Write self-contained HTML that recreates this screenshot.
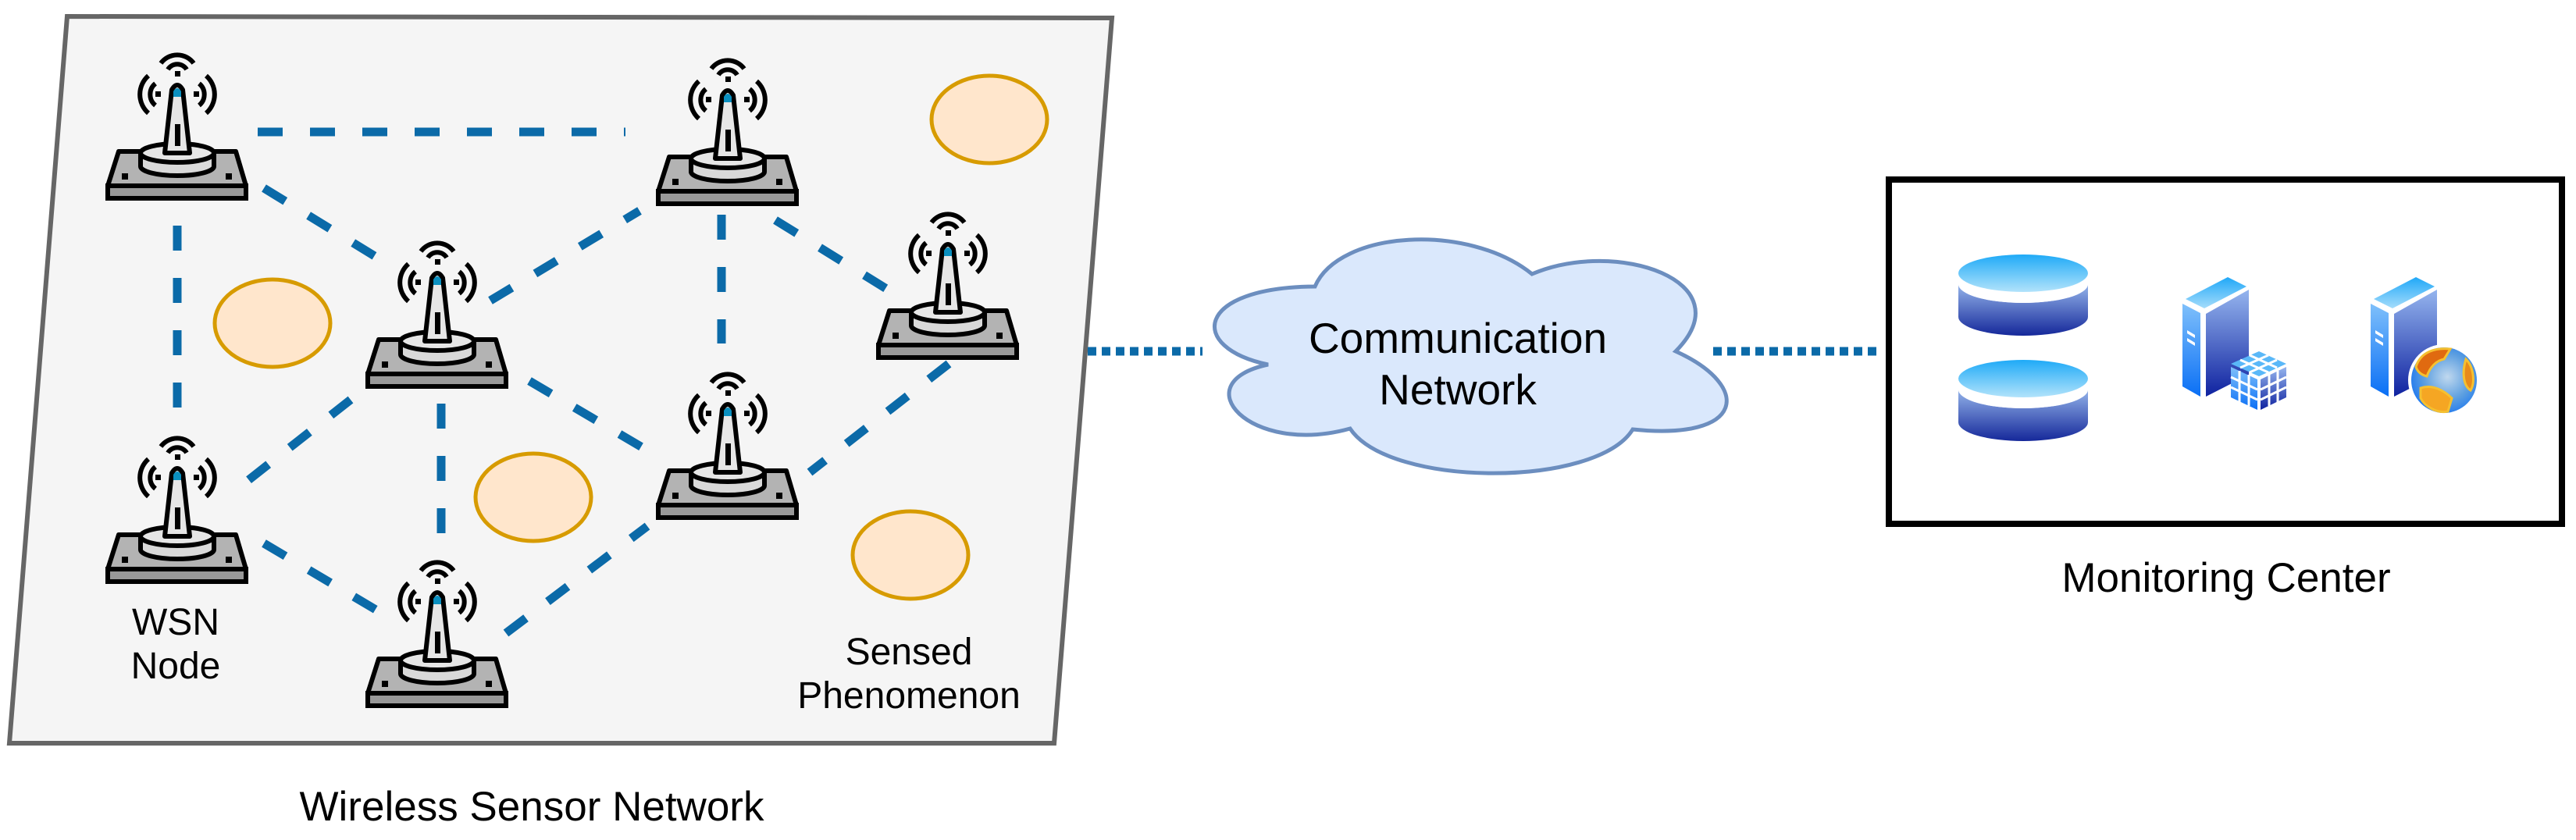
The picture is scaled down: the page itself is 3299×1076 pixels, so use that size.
<!DOCTYPE html>
<html><head><meta charset="utf-8"><style>
html,body{margin:0;padding:0;background:#fff;}
svg{display:block;}
text{font-family:"Liberation Sans",Arial,sans-serif;fill:#000;}
</style></head><body>
<svg width="3299" height="1076" viewBox="0 0 3299 1076" xmlns="http://www.w3.org/2000/svg">
<defs>
<linearGradient id="dbTop" x1="0" y1="0" x2="0" y2="1"><stop offset="0" stop-color="#1faaf7"/><stop offset="1" stop-color="#b2e3fb"/></linearGradient>
<linearGradient id="dbBody" x1="0" y1="0" x2="0" y2="1"><stop offset="0" stop-color="#94b4ea"/><stop offset="1" stop-color="#15289a"/></linearGradient>
<linearGradient id="srvL" x1="0" y1="0" x2="0" y2="1"><stop offset="0" stop-color="#7fc0fb"/><stop offset="1" stop-color="#0a6ff5"/></linearGradient>
<linearGradient id="srvR" x1="0" y1="0" x2="0" y2="1"><stop offset="0" stop-color="#95b5ee"/><stop offset="1" stop-color="#0f22a0"/></linearGradient>
<linearGradient id="srvT" x1="0" y1="0" x2="0" y2="1"><stop offset="0" stop-color="#20a8f8"/><stop offset="1" stop-color="#a5dcfb"/></linearGradient>
<radialGradient id="globe" cx="0.55" cy="0.45" r="0.6"><stop offset="0" stop-color="#c0d8ee"/><stop offset="0.6" stop-color="#5b9ee0"/><stop offset="1" stop-color="#1e78f0"/></radialGradient>
<g id="tower">
  <polygon points="15,127 165,127 178,171 1,171" fill="#b3b3b3" stroke="#000" stroke-width="6" stroke-linejoin="round"/>
  <rect x="1" y="171" width="177" height="16" fill="#999" stroke="#000" stroke-width="6"/>
  <rect x="19" y="155" width="8" height="8" fill="#000"/>
  <rect x="152" y="155" width="8" height="8" fill="#000"/>
  <path d="M43,129 L43,146 A47,12 0 0 0 137,146 L137,129 Z" fill="#d9d9d9" stroke="#000" stroke-width="6"/>
  <ellipse cx="90" cy="129" rx="47" ry="12" fill="#e6e6e6" stroke="#000" stroke-width="6"/>
  <path d="M83,48 Q90,36 97,48 L106,129 L74,129 Z" fill="#e6e6e6" stroke="#000" stroke-width="6" stroke-linejoin="round"/>
  <path d="M85,50 Q90,42 95,50 L95,57 L85,57 Z" fill="#0a8fbf"/>
  <rect x="87" y="92" width="7" height="28" fill="#000"/>
  <rect x="87" y="24" width="7" height="7" fill="#000"/>
  <rect x="62" y="50" width="7" height="7" fill="#000"/>
  <rect x="111" y="50" width="7" height="7" fill="#000"/>
  <path d="M78,22 A14,14 0 0 1 102,22" fill="none" stroke="#000" stroke-width="6"/>
  <path d="M69,14 A26,26 0 0 1 111,14" fill="none" stroke="#000" stroke-width="6"/>
  <path d="M62,40 A18,18 0 0 0 62,68" fill="none" stroke="#000" stroke-width="6"/>
  <path d="M118,40 A18,18 0 0 1 118,68" fill="none" stroke="#000" stroke-width="6"/>
  <path d="M53,30 A32,32 0 0 0 53,78" fill="none" stroke="#000" stroke-width="6"/>
  <path d="M127,30 A32,32 0 0 1 127,78" fill="none" stroke="#000" stroke-width="6"/>
</g>
<g id="server">
  <polygon points="0,0 24,12 -30,40 -54,28" fill="url(#srvT)"/>
  <polygon points="-58,34 -35,46 -35,153 -58,140" fill="url(#srvL)"/>
  <polygon points="-28,47 27,16 27,125 -28,153" fill="url(#srvR)"/>
  <polygon points="-52,68 -42,74 -42,78 -52,72" fill="#fff"/>
  <polygon points="-52,78 -42,84 -42,88 -52,82" fill="#fff"/>
</g>
<g id="db">
  <path d="M-83,14 A83,24 0 0 0 83,14 L83,56 A83,24 0 0 1 -83,56 Z" fill="url(#dbBody)"/>
  <path d="M-83,0 A83,24 0 0 0 83,0 L83,14 A83,24 0 0 1 -83,14 Z" fill="#fff"/>
  <ellipse cx="0" cy="0" rx="83" ry="24" fill="url(#dbTop)"/>
</g>
</defs>

<polygon points="86,21 1424,23 1350,952 12,952" fill="#f5f5f5" stroke="#666" stroke-width="6"/>

<g stroke="#0b6aa8" stroke-width="11" stroke-dasharray="32,35" fill="none">
  <line x1="330" y1="169" x2="801" y2="169"/>
  <line x1="227" y1="289" x2="227" y2="522"/>
  <line x1="338" y1="241" x2="483" y2="330"/>
  <line x1="628" y1="385" x2="819" y2="270"/>
  <line x1="924" y1="275" x2="924" y2="440"/>
  <line x1="993" y1="282" x2="1137" y2="371"/>
  <line x1="449" y1="512" x2="313" y2="619"/>
  <line x1="565" y1="517" x2="565" y2="684"/>
  <line x1="678" y1="488" x2="824" y2="574"/>
  <line x1="338" y1="696" x2="483" y2="782"/>
  <line x1="648" y1="811" x2="829" y2="674"/>
  <line x1="1215" y1="466" x2="1037" y2="605"/>
</g>

<g fill="#ffe6cc" stroke="#d79b00" stroke-width="5">
  <ellipse cx="1267" cy="153" rx="74" ry="56"/>
  <ellipse cx="349" cy="414" rx="74" ry="56"/>
  <ellipse cx="683" cy="637" rx="74" ry="56"/>
  <ellipse cx="1166" cy="711" rx="74" ry="56"/>
</g>

<use href="#tower" x="137" y="67"/>
<use href="#tower" x="842" y="74"/>
<use href="#tower" x="470" y="308"/>
<use href="#tower" x="1124" y="271"/>
<use href="#tower" x="137" y="558"/>
<use href="#tower" x="842" y="476"/>
<use href="#tower" x="470" y="717"/>

<g font-size="48" text-anchor="middle">
  <text x="225" y="813">WSN</text>
  <text x="225" y="869">Node</text>
  <text x="1164" y="851">Sensed</text>
  <text x="1164" y="907">Phenomenon</text>
</g>
<text x="681" y="1051" font-size="53" text-anchor="middle">Wireless Sensor Network</text>

<g stroke="#0b6aa8" stroke-width="11" stroke-dasharray="11,7" fill="none">
  <line x1="1393" y1="450" x2="1540" y2="450"/>
  <line x1="2194" y1="450" x2="2405" y2="450"/>
</g>

<path d="M1624,467 C1520,445 1530,368 1684,367 C1715,295 1880,285 1962,351 C2070,305 2235,360 2146,450 C2245,495 2235,565 2091,550 C2045,625 1780,625 1729,549 C1600,585 1515,490 1624,467 Z" fill="#dae8fc" stroke="#6c8ebf" stroke-width="5"/>
<g font-size="55" text-anchor="middle">
  <text x="1867" y="452">Communication</text>
  <text x="1867" y="518">Network</text>
</g>

<rect x="2419" y="230" width="862" height="441" fill="#fff" stroke="#000" stroke-width="8"/>
<use href="#db" x="2591" y="350"/>
<use href="#db" x="2591" y="485"/>
<use href="#server" x="2853" y="355"/>
<g>
  <polygon points="2893,450 2928,466 2893,482 2857,466" fill="#5ab8f8"/>
  <polygon points="2857,470 2891,486 2891,525 2857,509" fill="url(#srvL)"/>
  <polygon points="2895,486 2928,470 2928,509 2895,525" fill="url(#srvR)"/>
  <g stroke="#fff" stroke-width="3">
    <line x1="2869" y1="461" x2="2905" y2="477"/><line x1="2881" y1="455" x2="2916" y2="471"/>
    <line x1="2905" y1="455" x2="2869" y2="471"/><line x1="2916" y1="461" x2="2881" y2="477"/>
    <line x1="2868" y1="475" x2="2868" y2="515"/><line x1="2880" y1="480" x2="2880" y2="520"/>
    <line x1="2857" y1="483" x2="2891" y2="499"/><line x1="2857" y1="496" x2="2891" y2="512"/>
    <line x1="2906" y1="480" x2="2906" y2="520"/><line x1="2917" y1="475" x2="2917" y2="515"/>
    <line x1="2895" y1="499" x2="2928" y2="483"/><line x1="2895" y1="512" x2="2928" y2="496"/>
  </g>
</g>
<use href="#server" x="3094" y="355"/>
<circle cx="3130" cy="487" r="46" fill="#fff"/>
<circle cx="3130" cy="487" r="42" fill="url(#globe)"/>
<path d="M3094,470 C3100,450 3120,445 3138,447 L3130,460 C3120,462 3112,470 3108,482 C3100,480 3096,476 3094,470 Z" fill="#e06a10" stroke="#f5c030" stroke-width="3"/>
<path d="M3100,497 C3115,492 3130,500 3140,510 L3135,527 C3120,530 3105,520 3100,510 Z" fill="#f5a623" stroke="#f5c030" stroke-width="3"/>
<path d="M3158,460 C3168,470 3170,490 3164,500 C3156,495 3152,480 3158,460 Z" fill="#e88a1a" stroke="#f5c030" stroke-width="3"/>
<text x="2851" y="758" font-size="53" text-anchor="middle">Monitoring Center</text>
</svg>
</body></html>
